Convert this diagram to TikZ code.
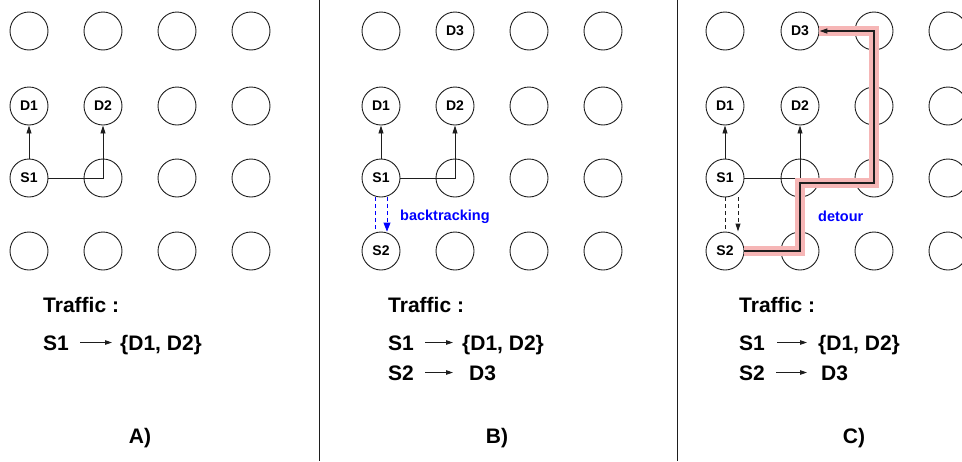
\documentclass[tikz,border=0pt]{standalone}
\usepackage{fontspec}
\setmainfont{Liberation Sans}
\usetikzlibrary{arrows.meta,calc}
\definecolor{hlpink}{RGB}{246,182,182}
\definecolor{ink}{RGB}{30,30,30}
\begin{document}
\begin{tikzpicture}[x=1pt,y=-1pt,
  nd/.style={circle,draw=ink,line width=0.9pt,minimum size=38pt,inner sep=0pt},
  ndtext/.style={inner sep=0pt,font=\bfseries\fontsize{14}{14}\selectfont},
  txt/.style={inner sep=0pt,anchor=base west,text height=15pt,text depth=0pt,font=\bfseries\fontsize{21}{21}\selectfont},
  panel/.style={inner sep=0pt,anchor=base,font=\bfseries\fontsize{21}{21}\selectfont},
  lbl/.style={inner sep=0pt,anchor=base west,font=\bfseries\fontsize{14.5}{14.5}\selectfont,text=blue},
  con/.style={draw=ink,line width=0.9pt},
  tip/.style={-{Triangle[length=8pt,width=5pt]}},
  bigtip/.style={-{Triangle[length=9pt,width=7pt]}},
  ttip/.style={-{Triangle[length=7pt,width=4.5pt]}},
  bdash/.style={draw=blue,line width=0.9pt,dash pattern=on 4pt off 3pt},
  kdash/.style={draw=ink,line width=0.9pt,dash pattern=on 4pt off 3pt},
  hl/.style={draw=hlpink,line width=10pt,line join=miter},
  divider/.style={draw=ink,line width=0.9pt},
]
\useasboundingbox (0,0) rectangle (962,461);

% dividers
\coordinate (d1t) at (319,0); \coordinate (d1b) at (319,461);
\coordinate (d2t) at (677,0); \coordinate (d2b) at (677,461);
\draw[divider] (d1t) -- (d1b);
\draw[divider] (d2t) -- (d2b);

% grids
\foreach \p/\xa/\xb/\xc/\xd in {a/29/103/177/251, b/381/455/529/603, c/725/800/874/948}{
  \foreach \c/\x in {0/\xa,1/\xb,2/\xc,3/\xd}{
    \foreach \r/\y in {0/31,1/106,2/178,3/251}{
      \node[nd] (\p\c\r) at (\x,\y) {};
    }
  }
}

% node labels
\foreach \p in {a,b,c}{
  \node[ndtext] (\p01t) at (\p01) {D1};
  \node[ndtext] (\p11t) at (\p11) {D2};
  \node[ndtext] (\p02t) at (\p02) {S1};
}
\foreach \p in {b,c}{
  \node[ndtext] (\p10t) at (\p10) {D3};
  \node[ndtext] (\p03t) at (\p03) {S2};
}

% multicast trees
\foreach \p in {a,b,c}{
  \draw[con,tip] (\p02) -- (\p01);
  \draw[con,tip] (\p02.east) -| (\p11.south);
}

% backtracking (B)
\draw[bdash] ($(b02.south)+(-6,0)$) -- ($(b03.north)+(-6,0)$);
\draw[bdash,bigtip,blue] ($(b02.south)+(6,0)$) -- ($(b03.north)+(6,0)$);
\node[lbl] (back) at (400,220) {backtracking};

% C dashed
\draw[kdash] (c02.south) -- (c03.north);
\draw[kdash,tip] ($(c02.south)+(13,0)$) -- ($(c03.north)+(13,0)$);
\node[lbl] (detour) at (818,221) {detour};

% detour path
\coordinate (bendA) at (800,183);
\coordinate (bendB) at (874,183);
\draw[hl] (c03.east) -| (bendA) -- (bendB) |- (c10.east);
\draw[draw=ink,line width=1.1pt,line join=miter,tip] (c03.east) -| (bendA) -- (bendB) |- (c10.east);

% traffic text A
\node[txt] (trA) at (43,312) {Traffic :};
\node[txt] (sA1) at (43,350) {S1};
\node[txt] (dA1) at (120,350) {\{D1, D2\}};
\draw[con,ttip,shorten <=11pt,shorten >=8pt] (sA1.east) -- (dA1.west);
\node[panel] (pA) at (140,443) {A)};

% traffic text B
\node[txt] (trB) at (388,312) {Traffic :};
\node[txt] (sB1) at (388,350) {S1};
\node[txt] (dB1) at (462,350) {\{D1, D2\}};
\node[txt] (sB2) at (388,380) {S2};
\node[txt] (dB2) at (469,380) {D3};
\draw[con,ttip,shorten <=11pt,shorten >=9pt] (sB1.east) -- (dB1.west);
\draw[con,ttip,shorten <=11pt,shorten >=16pt] (sB2.east) -- (dB2.west);
\node[panel] (pB) at (497,443) {B)};

% traffic text C
\node[txt] (trC) at (739,312) {Traffic :};
\node[txt] (sC1) at (739,350) {S1};
\node[txt] (dC1) at (818,350) {\{D1, D2\}};
\node[txt] (sC2) at (739,380) {S2};
\node[txt] (dC2) at (821,380) {D3};
\draw[con,ttip,shorten <=12pt,shorten >=11pt] (sC1.east) -- (dC1.west);
\draw[con,ttip,shorten <=11pt,shorten >=14pt] (sC2.east) -- (dC2.west);
\node[panel] (pC) at (854,443) {C)};
\end{tikzpicture}
\end{document}
